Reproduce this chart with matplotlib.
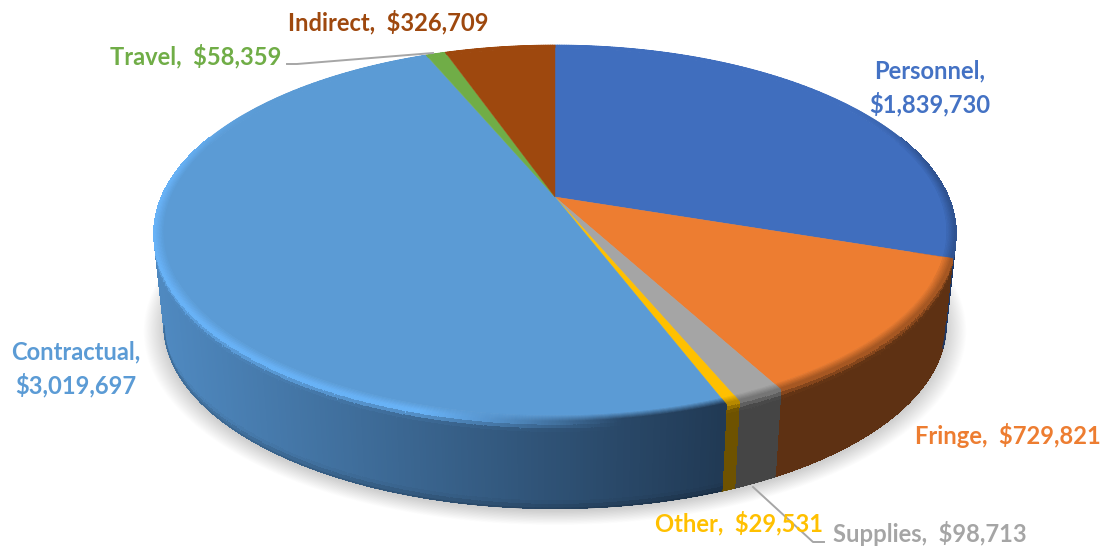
import numpy as np
import matplotlib
matplotlib.use("Agg")
import matplotlib.pyplot as plt
from matplotlib.collections import PolyCollection

names = ["Personnel", "Fringe", "Supplies", "Other", "Contractual", "Travel", "Indirect"]
values = [1839730, 729821, 98713, 29531, 3019697, 58359, 326709]
top_colors = ["#406EBE", "#ED7D31", "#A5A5A5", "#FFC000", "#5B9BD5", "#70AD47", "#9E480E"]
side_colors = ["#1F3864", "#5E3113", "#454545", "#6E5200", "#2F5578", "#3A5A25", "#4F2407"]
text_colors = ["#4472C4", "#ED7D31", "#A5A5A5", "#FFC000", "#5B9BD5", "#70AD47", "#9E480E"]

CX, CY, A, B, K, DEPTH, SHRINK = 555.0, 197.0, 181.4, 393.4, 0.1935, 92.0, 0.975


def proj(theta, r=1.0, h=0.0):
    x, y = r * np.sin(theta), r * np.cos(theta)
    den = 1 + K * y
    s = 1 - (1 - SHRINK) * h
    return CX + s * B * x / den, CY + DEPTH * h - s * A * y / den


def rgb(c):
    return np.array(matplotlib.colors.to_rgb(c))


def mix(a, b, t):
    return a + (b - a) * t


fig = plt.figure(figsize=(11.07, 5.48), dpi=100)
ax = fig.add_axes([0, 0, 1, 1])
ax.set_xlim(0, 1107)
ax.set_ylim(548, 0)
ax.axis("off")

# soft shadow
full = np.linspace(0, 2 * np.pi, 361)
for e in np.linspace(0, 0.05, 24):
    sx, sy = proj(full, 1 + e, 1.0)
    ax.fill(sx, sy + 3, color="black", alpha=0.0075, lw=0, zorder=1)

fractions = np.array(values) / sum(values)
edges = np.concatenate([[0], np.cumsum(fractions)]) * 2 * np.pi
BLUE_L, BLUE_R = rgb("#4F89C0"), rgb("#213A55")
HILITE = rgb("#68B2F6")


def peak_and_side(i, mid):
    px, _ = proj(mid)
    top, side = rgb(top_colors[i]), rgb(side_colors[i])
    if names[i] == "Contractual":
        sc = mix(BLUE_L, BLUE_R, np.clip((px - 160) / 560, 0, 1))
        return mix(sc, HILITE, np.clip((620 - px) / 200, 0, 1)), sc
    return mix(top, side, 0.5), side


# side wall, painted from the back to the front
quads = []
for i in range(len(values)):
    t0, t1 = edges[i], edges[i + 1]
    n = max(int((t1 - t0) / np.radians(0.4)), 2)
    th = np.linspace(t0, t1, n + 1)
    hs = np.linspace(0, 1, 25)
    for a, b in zip(th[:-1], th[1:]):
        mid = (a + b) / 2
        if np.cos(mid) > 0.35:
            continue
        peak, sc = peak_and_side(i, mid)
        for j in range(len(hs) - 1):
            xa, ya = proj(a, 1, hs[j]); xb, yb = proj(b, 1, hs[j])
            xc, yc = proj(b, 1, hs[j + 1]); xd, yd = proj(a, 1, hs[j + 1])
            f = hs[j]
            c = mix(peak, sc, np.clip(f / 0.09, 0, 1))
            if names[i] == "Contractual":
                c = c * (1 - 0.2 * np.clip((f - 0.9) / 0.1, 0, 1))
            quads.append((-np.cos(mid), [(xa, ya), (xb, yb), (xc, yc), (xd, yd)], c))
quads.sort(key=lambda q: q[0])
ax.add_collection(PolyCollection([q[1] for q in quads], facecolors=[q[2] for q in quads],
                                 edgecolors=[q[2] for q in quads], linewidths=0.5,
                                 antialiased=False, zorder=2))

# smooth lower silhouette of the wall
for i in range(len(values)):
    th = np.linspace(edges[i], edges[i + 1], 200)
    th = th[np.cos(th) < -K]
    if len(th) == 0:
        continue
    sx, sy = proj(th, 1, 1.0)
    for k in range(len(th) - 1):
        peak, sc = peak_and_side(i, th[k])
        c = sc * (0.8 if names[i] == "Contractual" else 1.0)
        ax.plot(sx[k:k + 2], sy[k:k + 2], color=c, lw=1.0, solid_capstyle="round", zorder=2.5)

# top faces and rounded rim
polys, cols = [], []
for i in range(len(values)):
    t0, t1 = edges[i], edges[i + 1]
    n = max(int((t1 - t0) / np.radians(0.4)), 2)
    th = np.linspace(t0, t1, n + 1)
    top = rgb(top_colors[i])
    sx, sy = proj(th, 0.978)
    ax.fill(np.r_[CX, sx], np.r_[CY, sy], color=top, lw=0.3, zorder=3)
    rs = np.linspace(0.978, 1.0, 7)
    for a, b in zip(th[:-1], th[1:]):
        mid = (a + b) / 2
        front = np.clip((0.55 - np.cos(mid)) / 0.4, 0, 1)
        peak, _ = peak_and_side(i, mid)
        for j in range(len(rs) - 1):
            xa, ya = proj(a, rs[j]); xb, yb = proj(b, rs[j])
            xc, yc = proj(b, rs[j + 1]); xd, yd = proj(a, rs[j + 1])
            c = mix(top, peak, front * (j + 1) / (len(rs) - 1))
            polys.append([(xa, ya), (xb, yb), (xc, yc), (xd, yd)])
            cols.append(c)
ax.add_collection(PolyCollection(polys, facecolors=cols, edgecolors=cols, linewidths=0.5, zorder=4))

# leader lines
ax.plot([287, 297, 433], [64, 64, 53], color="#A6A6A6", lw=1.4, zorder=5)
ax.plot([753, 813, 824], [487, 542, 542], color="#A6A6A6", lw=1.4, zorder=5)

# labels
font = dict(family="Lato", fontweight="bold", fontsize=17.15, zorder=6)
for i, (x, y, ha, two) in enumerate([
    (930, 88, "center", True),
    (1101, 435, "right", False),
    (1027, 533, "right", False),
    (823, 523, "right", False),
    (76, 369, "center", True),
    (281, 56, "right", False),
    (488, 22, "right", False),
]):
    sep = ",\n" if two else ",  "
    ax.text(x, y, f"{names[i]}{sep}${values[i]:,}", color=text_colors[i], ha=ha, va="center",
            multialignment="center", linespacing=1.44, **font)

fig.savefig("out.png", dpi=100)
